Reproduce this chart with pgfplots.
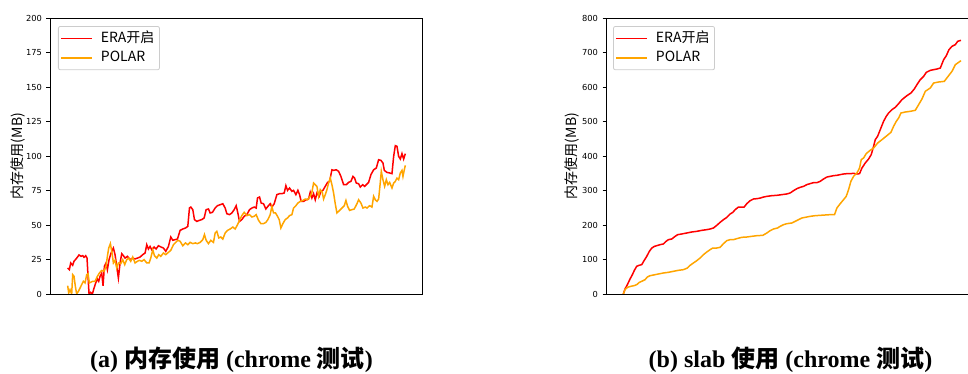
\documentclass[border=0pt]{standalone}
\usepackage{fontspec}
\setmainfont{Liberation Serif}
\newfontfamily\cjk{Noto Sans CJK SC}
\newfontfamily\dejavu{DejaVu Sans}
\usepackage{pgfplots}
\pgfplotsset{compat=1.18}
\definecolor{myorange}{RGB}{255,165,0}
\definecolor{legbord}{RGB}{204,204,204}
\pgfplotsset{
  mystyle/.style={
    scale only axis, width=372pt, height=276pt,
    anchor=south west,
    ymin=0,
    xtick=\empty,
    ytick pos=left,
    tick align=outside,
    major tick length=3.5pt,
    every tick/.style={black, line width=0.8pt},
    axis line style={line width=0.8pt, black},
    ticklabel style={font=\dejavu\fontsize{8.3}{9}\selectfont},
    /pgf/number format/assume math mode=true,
    yticklabel style={xshift=-1pt},
    ylabel={内存使用(MB)},
    ylabel style={font=\cjk\fontsize{14}{16}\selectfont, anchor=center},
    legend cell align=left,
    legend image code/.code={\draw[#1, line width=1.5pt] (0pt,0pt) -- (31pt,0pt); \path (36pt,0pt);},
    legend style={anchor=north west, draw=legbord, line width=0.8pt, rounded corners=2pt,
      inner xsep=2pt, inner ysep=2pt,
      font=\cjk\fontsize{14}{16}\selectfont,
      nodes={inner xsep=3pt, inner ysep=2.6pt, text height=11pt, text depth=3.5pt}},
  }
}
\begin{document}
\begin{tikzpicture}
\path[use as bounding box] (0pt,0pt) rectangle (968pt,374pt);
\begin{axis}[mystyle, at={(50pt,80pt)}, xmin=150, xmax=1265, ymax=200,
  ytick={0,25,...,200},
  ylabel style={at={(axis description cs:-0.086,0.5)}},
  legend style={at={(axis description cs:0.0215,0.971)}}]
\addplot[red, line width=1.5pt] coordinates {
(203,18.8)(208,17.6)(212,22.5)(218,20.8)(222,23.7)(230,26)(237,28.3)(243,27.3)(248,27.8)(252,26.6)(257,27.8)(261,26)(264,12.8)(267,0)(272,1.2)(277,0)(282,4.3)(287,8)(292,10.9)(296,9.2)(300,12.8)(305,15.2)(309,6)(313,20)(318,22.5)(322,17.6)(327,24.9)(333,29.7)(340,33.3)(345,28.5)(350,20)(355,11.6)(360,22.5)(365,29.2)(370,27.8)(375,26)(382,27.3)(390,24.9)(398,26)(405,25.4)(412,26)(420,26.8)(428,28.5)(435,29.7)(440,35.7)(445,32.6)(450,34.5)(455,32.1)(462,34)(468,32.6)(475,35)(483,34)(490,33.3)(497,30.9)(505,34.5)(512,41.3)(518,38.9)(525,39.4)(532,39.8)(540,46.1)(548,47.1)(556,47.8)(563,49)(568,62.3)(572,63)(578,61.1)(583,53.9)(590,52.6)(598,53.4)(605,53.9)(612,55.1)(618,61.1)(625,61.6)(630,58.7)(637,59.2)(645,62.3)(652,64)(660,64.7)(668,65.4)(675,62.3)(680,58.2)(688,57.5)(695,58.7)(702,61.1)(708,64)(713,58.7)(718,52.6)(725,53.9)(732,56.3)(740,57.5)(748,61.1)(755,62.3)(762,63)(768,62.3)(772,69.6)(778,70.3)(783,65.9)(790,65.4)(797,61.6)(803,63.5)(810,65.4)(815,63)(822,65.4)(830,72)(838,72.7)(845,72.7)(852,73.2)(857,78.5)(862,75.1)(868,76.8)(875,74.4)(880,75.1)(887,72)(893,75.1)(898,72)(903,67.1)(910,67.1)(918,68.3)(925,68.8)(930,73.7)(935,69.6)(940,72.7)(945,68.3)(950,73.2)(957,70.8)(962,74.4)(968,75.1)(975,78)(982,80.9)(988,81.6)(995,90)(1000,89.6)(1008,90)(1015,88.9)(1022,85.2)(1030,79.2)(1038,79.2)(1045,80.9)(1052,81.6)(1058,85.2)(1063,84)(1068,80.4)(1075,79.9)(1080,77.5)(1087,79.2)(1093,78)(1100,79.7)(1105,80.9)(1112,86.5)(1120,90)(1128,91.3)(1135,97.3)(1142,96.8)(1148,94.9)(1152,89.6)(1160,88.1)(1168,87.7)(1175,87.2)(1180,99.7)(1185,107.5)(1190,107)(1195,99.7)(1200,97.8)(1205,101.7)(1210,97.8)(1215,101.7)
};
\addlegendentry{ERA开启}
\addplot[myorange, line width=1.5pt] coordinates {
(203,6)(206,0.7)(210,3.1)(215,0)(218,14)(222,12.8)(226,5.5)(230,0)(235,1.9)(240,4.3)(245,6.8)(250,9.2)(255,8)(260,14)(264,14.7)(268,8)(272,8.5)(278,9.2)(285,9.2)(292,12.8)(298,15.2)(305,17.1)(312,16.4)(318,20)(322,27.3)(326,33.3)(331,36.5)(336,29.7)(340,22.5)(345,24.4)(350,18.8)(355,22.5)(362,22)(368,24.9)(374,21.3)(380,24.9)(386,26)(392,23.7)(398,26.8)(405,22.5)(412,23.7)(418,24.4)(425,23.7)(432,24.9)(440,22.5)(447,22.5)(452,26)(458,32.1)(463,27.8)(470,26)(476,28.5)(482,27.3)(490,29.7)(497,28.5)(505,30.2)(512,31.6)(520,35.7)(527,37.4)(533,38.9)(540,38.2)(548,35)(556,37)(563,35.7)(570,37.4)(578,36.5)(586,37)(592,36.5)(600,37.4)(608,39.4)(613,43)(618,38.9)(625,36.5)(632,38.9)(640,37.4)(645,44.2)(650,45.4)(656,40.6)(662,41.3)(668,39.8)(675,44.2)(682,46.1)(690,47.1)(698,48.5)(705,47.1)(712,50.2)(718,53.4)(725,56.8)(732,59.2)(740,56.8)(748,57.5)(755,55.8)(762,56.3)(768,57.5)(775,53.4)(782,51)(790,51)(797,51.9)(803,53.9)(810,57.5)(815,63.5)(820,58.7)(826,58.7)(832,56.3)(837,53.9)(842,47.8)(848,51)(855,53.9)(862,55.1)(868,56.8)(875,57.5)(880,62.3)(887,64)(893,65.9)(900,67.1)(908,67.8)(915,68.8)(922,68.3)(930,70.8)(935,73.7)(940,80.4)(945,79.2)(950,78)(955,70.8)(960,75.6)(966,73.7)(970,68.8)(975,72)(980,75.6)(985,80.4)(990,84)(995,79.2)(1000,73.2)(1005,65.4)(1010,58.7)(1018,60.6)(1025,62.3)(1032,64)(1037,67.8)(1042,63.5)(1048,60.6)(1055,61.1)(1062,61.6)(1070,65.4)(1075,68.3)(1082,65.9)(1088,62.3)(1095,63)(1100,62.3)(1108,64)(1115,63)(1120,70.8)(1125,68.3)(1130,67.1)(1135,68.8)(1140,80.9)(1143,88.9)(1148,82.8)(1153,78)(1158,82.8)(1163,79.2)(1168,80.9)(1175,76.8)(1180,80.4)(1185,81.6)(1190,84)(1195,82.8)(1200,87.7)(1205,89.6)(1208,85.2)(1212,90)(1215,93.2)
};
\addlegendentry{POLAR}
\end{axis}
\begin{axis}[mystyle, at={(606pt,80pt)}, xmin=198, xmax=1313, ymax=800,
  ytick={0,100,...,800},
  ylabel style={at={(axis description cs:-0.0914,0.5)}},
  legend style={at={(axis description cs:0.019,0.971)}}]
\addplot[red, line width=1.5pt] coordinates {
(250,0)(255,14.5)(262,27)(270,43.5)(277,56)(283,68.6)(290,80.2)(297,83.1)(305,85)(312,96.6)(320,109)(328,123.7)(335,133)(343,138)(350,140)(360,143)(370,145)(378,152.7)(385,157.5)(395,159.4)(405,167)(413,172)(425,174)(440,176.8)(455,179.7)(470,181.6)(485,184.5)(500,186.5)(510,188.4)(520,191.3)(530,199)(540,207.7)(550,215.5)(560,222)(570,232)(578,236.5)(585,244.4)(595,252)(605,252)(612,252)(620,261.8)(630,270.5)(640,275.4)(650,276.3)(660,278)(670,281)(680,283)(695,285)(710,286)(725,288)(740,290)(750,292.8)(760,299.5)(770,305.3)(780,309.2)(790,312)(800,317)(810,320)(820,322.7)(830,322.7)(840,326.6)(850,333.3)(860,339)(870,341)(880,343)(890,344)(900,346)(910,347.8)(920,348.8)(930,348.8)(940,349.8)(950,347.8)(958,348.8)(965,365)(975,379.7)(985,391.3)(993,404)(1000,428)(1005,447.3)(1012,457)(1020,476.3)(1030,500.5)(1038,515)(1045,524.6)(1055,534.3)(1065,541)(1075,551.7)(1085,563.3)(1100,575)(1112,582.6)(1122,594.2)(1130,606.8)(1140,621.3)(1150,630.9)(1158,642.5)(1170,648.3)(1180,650.2)(1190,652.2)(1200,655)(1210,679.2)(1218,690.8)(1226,708.2)(1235,717.9)(1245,722.7)(1252,732.4)(1262,735.3)
};
\addlegendentry{ERA开启}
\addplot[myorange, line width=1.5pt] coordinates {
(250,0)(255,12.6)(262,19.3)(272,22.2)(282,24.2)(290,27)(298,33.8)(305,36.7)(315,41.5)(322,49.3)(330,53.1)(340,55)(355,58)(370,60.9)(385,62.8)(400,65.7)(415,68.6)(430,70.5)(442,75.4)(450,83.1)(460,89.9)(470,96.6)(480,104.3)(490,114)(500,121.7)(510,128.5)(518,133.3)(530,133.3)(540,135.3)(550,145.9)(560,154.6)(570,157.5)(580,157.5)(590,160.4)(605,164.3)(620,165.2)(635,167.2)(650,169)(668,170)(680,176.8)(690,183.6)(700,188.4)(712,191.3)(720,196.1)(730,200.9)(740,203.8)(755,205.8)(765,210.6)(775,215.5)(785,220.3)(795,222.2)(810,225.1)(825,227)(840,228)(855,229)(870,230)(883,230)(890,249.3)(900,261.8)(910,273.4)(918,283)(925,302.4)(932,326.6)(940,341)(950,350.7)(958,365.2)(963,389.4)(970,394.2)(978,407)(990,416.7)(1000,423)(1012,437.4)(1025,447.3)(1040,459)(1052,468.6)(1060,486)(1068,500.5)(1075,510)(1082,524.6)(1095,527.5)(1110,529.5)(1125,532.4)(1135,548.8)(1145,565.2)(1155,587.5)(1170,597.2)(1180,611.6)(1195,614.5)(1212,616.4)(1225,632.9)(1235,645.4)(1245,664.7)(1255,671.5)(1262,676.4)
};
\addlegendentry{POLAR}
\end{axis}
\node[anchor=base, font=\bfseries\fontsize{24}{28}\selectfont, inner sep=0pt] at (231.5pt,6pt) {(a) {\cjk 内存使用} (chrome {\cjk 测试})};
\node[anchor=base, font=\bfseries\fontsize{24}{28}\selectfont, inner sep=0pt] at (790.5pt,6pt) {(b) slab {\cjk 使用} (chrome {\cjk 测试})};
\end{tikzpicture}
\end{document}
